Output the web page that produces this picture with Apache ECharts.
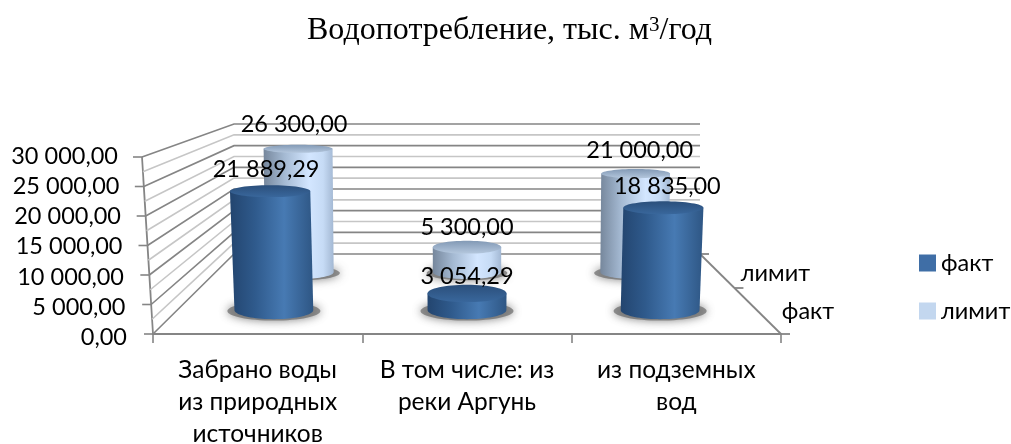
<!DOCTYPE html>
<html><head><meta charset="utf-8">
<style>html,body{margin:0;padding:0;background:#fff}#c{width:1011px;height:444px}</style>
<script src="https://cdn.jsdelivr.net/npm/echarts@6/dist/echarts.min.js"></script>
</head><body><div id="c"></div>
<script>
const categories = ['Забрано воды\nиз природных\nисточников', 'В том числе: из\nреки Аргунь', 'из подземных\nвод'];
const fact = [21889.29, 3054.29, 18835.00];
const limit = [26300.00, 5300.00, 21000.00];
const yTicks = [0, 5000, 10000, 15000, 20000, 25000, 30000];
const gridLevels = [0, 2500, 5000, 7500, 10000, 12500, 15000, 17500, 20000, 22500, 25000, 27500, 30000];
const depthNames = ['факт', 'лимит'];

const FONT = 'Lato';
const FS = 23.5;
const G = {left: 153, top: 157, width: 628, height: 177};
const BACK = {left: 234, right: 700, bottom: 254, top: 124, lean: 11};
const fmt = v => {
  const [a, b] = v.toFixed(2).split('.');
  return a.replace(/\B(?=(\d{3})+$)/g, ' ') + ',' + b;
};
const lerp = (a, b, k) => a + (b - a) * k;

// Projects a point of the front plane (library pixel coordinates) into the box depth.
function project(cs, px, py, d) {
  const t = (px - cs.x) / cs.width;
  const v = (cs.y + cs.height - py) / cs.height;
  const l = lerp(cs.x - BACK.lean * v, BACK.left, d);
  const r = lerp(cs.x + cs.width + BACK.lean * v, BACK.right, d);
  const b = lerp(BACK.bottom, BACK.top, v);
  return [lerp(l, r, t), lerp(py, b, d)];
}

function frameItem(params, api) {
  const cs = params.coordSys;
  const lv = api.value(1);
  const y = api.coord([0, lv])[1];
  const major = lv % 5000 === 0;
  const stroke = major ? '#858585' : '#c6c6c6';
  const a = project(cs, cs.x, y, 0), b = project(cs, cs.x, y, 1), c = project(cs, cs.x + cs.width, y, 1);
  const style = {stroke, lineWidth: 1.6, fill: 'none'};
  const ch = [{type: 'polyline', shape: {points: [a, b, c]}, style}];
  if (major) ch.push({type: 'line', shape: {x1: a[0] - 9, y1: a[1], x2: a[0], y2: a[1]}, style: {stroke: '#858585', lineWidth: 1.6}});
  if (lv === 0) {
    const base = api.coord([0, 0])[1];
    const top = api.coord([0, 30000])[1];
    const p0 = project(cs, cs.x, base, 0), p1 = project(cs, cs.x, top, 0);
    const s0 = project(cs, cs.x + cs.width, base, 0), s1 = project(cs, cs.x + cs.width, base, 1);
    const edge = {stroke: '#858585', lineWidth: 1.8};
    ch.push({type: 'line', shape: {x1: p0[0], y1: p0[1], x2: p1[0], y2: p1[1]}, style: edge});
    ch.push({type: 'line', shape: {x1: s0[0], y1: s0[1], x2: s1[0], y2: s1[1]}, style: edge});
    [[0, 0], [0.575, 1], [1, 2]].forEach(([d, i]) => {
      const p = project(cs, cs.x + cs.width, base, d);
      ch.push({type: 'line', shape: {x1: p[0] - (i === 2 ? 5 : 0), y1: p[1], x2: p[0] + 9, y2: p[1]}, style: edge});
      if (i < 2) ch.push({type: 'text', style: {
        text: depthNames[i], x: p[0] + (i ? 41 : 27), y: p[1] + (i ? -15 : -23), align: 'center', verticalAlign: 'middle',
        fontFamily: FONT, fontSize: FS, fill: '#000'}});
    });
  }
  return {type: 'group', children: ch};
}

function cylinder(depth, bodyStops, capStops) {
  return function (params, api) {
    const cs = params.coordSys;
    const i = api.value(0), val = api.value(1);
    const c0 = api.coord([i, 0]), c1 = api.coord([i, val]);
    const half = 0.068 * cs.width;
    const bL = project(cs, c0[0] - half, c0[1], depth), bR = project(cs, c0[0] + half, c0[1], depth);
    const tL = project(cs, c1[0] - half, c1[1], depth), tR = project(cs, c1[0] + half, c1[1], depth);
    const ratio = y => 0.12 + 0.1 * (y - 150) / 143;
    const bCx = (bL[0] + bR[0]) / 2, bCy = bL[1], bRx = (bR[0] - bL[0]) / 2, bRy = bRx * ratio(bCy);
    const tCx = (tL[0] + tR[0]) / 2, tCy = tL[1], tRx = (tR[0] - tL[0]) / 2, tRy = tRx * ratio(tCy);
    const pts = [tL];
    for (let k = 0; k <= 40; k++) {
      const ang = Math.PI - Math.PI * k / 40;
      pts.push([bCx + bRx * Math.cos(ang), bCy + bRy * Math.sin(ang)]);
    }
    pts.push(tR);
    const grad = (x2, y2, stops) => new echarts.graphic.LinearGradient(0, 0, x2, y2, stops);
    const t = (c0[0] - cs.x) / cs.width;
    const ly = tCy - 17 - (293 - tCy) * 0.05;
    return {type: 'group', children: [
      {type: 'ellipse', shape: {cx: bCx, cy: bCy + 1, rx: bRx * 1.18, ry: bRy * 1.05},
        style: {fill: 'rgba(105,105,105,0.7)', shadowBlur: 10, shadowColor: 'rgba(80,80,80,1)'}},
      {type: 'polygon', shape: {points: pts}, style: {fill: grad(1, 0, bodyStops)}},
      {type: 'ellipse', shape: {cx: tCx, cy: tCy, rx: tRx, ry: tRy}, style: {fill: grad(0, 1, capStops)}},
      {type: 'text', z2: 10, style: {text: fmt(val), x: tCx + (t - 0.5) * 12, y: ly, align: 'center', verticalAlign: 'middle',
        fontFamily: FONT, fontSize: FS, fill: '#000'}}
    ]};
  };
}

const factBody = [{offset: 0, color: '#23456f'}, {offset: 0.3, color: '#2f5a8c'}, {offset: 0.65, color: '#477ab3'}, {offset: 1, color: '#2e5684'}];
const factCap = [{offset: 0, color: '#2b4f7b'}, {offset: 1, color: '#39679c'}];
const limitBody = [{offset: 0, color: '#76879c'}, {offset: 0.3, color: '#a5bad3'}, {offset: 0.65, color: '#d3e6ff'}, {offset: 0.85, color: '#c6dbf5'}, {offset: 1, color: '#a3b8d3'}];
const limitCap = [{offset: 0, color: '#8299b5'}, {offset: 1, color: '#b4c7dd'}];

const chart = echarts.init(document.getElementById('c'), null, {renderer: 'canvas'});
const rich = {};
yTicks.forEach(v => {
  const s = 3.5 - 4.5 * v / 30000;
  rich['p' + v] = {padding: [s > 0 ? 2 * s : 0, v / 30000 * 9, s < 0 ? -2 * s : 0, 0], fontFamily: FONT, fontSize: FS, color: '#000'};
});

chart.setOption({
  backgroundColor: '#fff',
  animation: false,
  title: {
    text: 'Водопотребление, тыс. м{sup|3}/год', left: 302, top: 10,
    textStyle: {fontFamily: 'Liberation Serif', fontSize: 32, fontWeight: 'normal', color: '#000',
      rich: {sup: {fontFamily: 'Liberation Serif', fontSize: 21, color: '#000', verticalAlign: 'top', lineHeight: 32}}}
  },
  legend: {
    data: ['факт', 'лимит'], orient: 'vertical', left: 914, top: 246, itemWidth: 17, itemHeight: 17, itemGap: 24,
    icon: 'rect', textStyle: {fontFamily: FONT, fontSize: FS, color: '#000', padding: [0, 0, 0, 0]}
  },
  grid: {left: G.left, top: G.top, width: G.width, height: G.height, containLabel: false, outerBoundsMode: 'none'},
  xAxis: {
    type: 'category', data: categories,
    axisLine: {lineStyle: {color: '#858585', width: 1.8}},
    axisTick: {show: true, length: 9, alignWithLabel: false, lineStyle: {color: '#858585', width: 1.6}},
    axisLabel: {fontFamily: FONT, fontSize: 24.5, color: '#000', lineHeight: 32, margin: 20, interval: 0}
  },
  yAxis: {
    type: 'value', min: 0, max: 30000, interval: 5000,
    axisLine: {show: false}, axisTick: {show: false}, splitLine: {show: false},
    axisLabel: {margin: 26, formatter: v => '{p' + v + '|' + fmt(v) + '}', rich}
  },
  series: [
    {type: 'custom', name: 'frame', z: 1, silent: true, renderItem: frameItem,
      data: gridLevels.map(v => [0, v]), encode: {x: 0, y: 1}},
    {type: 'custom', name: 'лимит', z: 2, silent: true, renderItem: cylinder(0.775, limitBody, limitCap),
      itemStyle: {color: '#c3d7ef'}, data: limit.map((v, i) => [i, v]), encode: {x: 0, y: 1}},
    {type: 'custom', name: 'факт', z: 3, silent: true, renderItem: cylinder(0.3, factBody, factCap),
      itemStyle: {color: '#3f6ea6'}, data: fact.map((v, i) => [i, v]), encode: {x: 0, y: 1}}
  ]
});
</script></body></html>
